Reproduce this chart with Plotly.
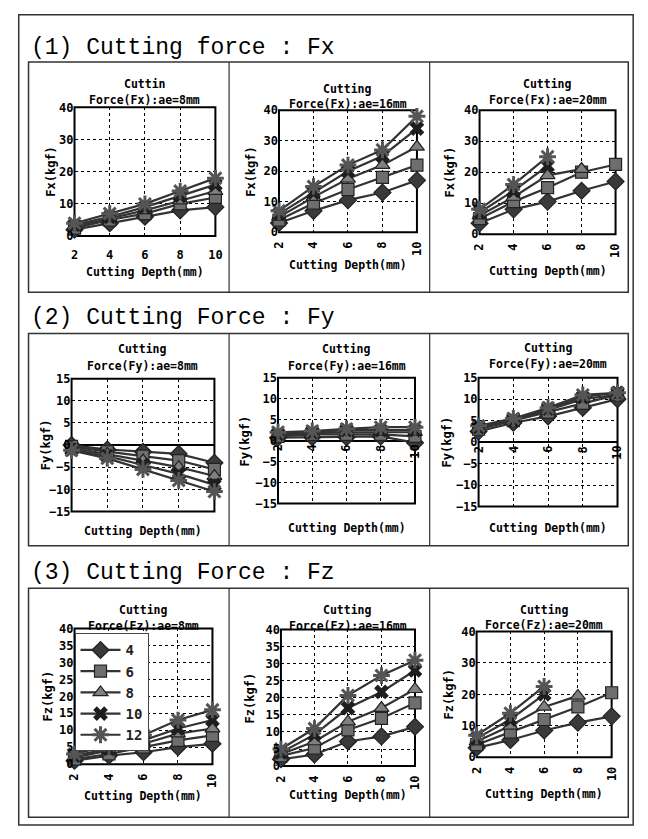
import plotly.graph_objects as go

W, H = 648, 839

# ---------------- data ----------------
depth = [2, 4, 6, 8, 10]
depth_labels = ["2", "4", "6", "8", "10"]
series_names = ["4", "6", "8", "10", "12"]

fx_ae8 = [[2, 4, 6, 8, 9],
          [2.5, 5, 7, 10, 12],
          [3, 5.5, 8, 11, 14],
          [3.5, 6, 9, 12.5, 16],
          [4, 7, 10, 14, 18]]
fx_ae16 = [[3, 7, 10.5, 13, 17],
           [4, 9.5, 14, 18, 22],
           [5, 11.5, 17.5, 22, 28],
           [6, 13, 20, 25, 34],
           [7, 15, 22, 27, 38]]
fx_ae20 = [[3.5, 8, 10.5, 14, 17],
           [5, 10.5, 15, 20, 22.5],
           [6, 12, 19, 21, None],
           [7, 14, 22, None, None],
           [8, 16, 25, None, None]]

fy_ae8 = [[0, -1, -1.5, -2, -4],
          [-0.3, -1.5, -2.5, -3.5, -5.5],
          [-0.6, -2, -3.5, -5, -7],
          [-1, -2.5, -4.5, -6.5, -9],
          [-1.2, -3, -5.5, -8, -10.5]]
fy_ae16 = [[0.7, 0.8, 0.8, 1.0, -0.5],
           [1.0, 1.5, 1.5, 1.5, 1.0],
           [1.3, 1.8, 2.0, 2.0, 2.0],
           [1.6, 2.0, 2.5, 2.5, 2.5],
           [2.0, 2.3, 2.8, 3.2, 3.2]]
fy_ae20 = [[2.5, 4.5, 6, 8, 10],
           [3, 5, 7, 9, 11],
           [3.2, 5, 7.5, 10, 11],
           [3.5, 5.2, 7.8, 10.5, 11.5],
           [3.8, 5.5, 8, 11, 11.5]]

fz_ae8 = [[1, 2.5, 3.5, 5, 6],
          [1.5, 3, 5, 7, 8.5],
          [2, 4, 6, 9, 10.5],
          [2.5, 4.5, 7, 10.5, 13],
          [3, 5.5, 8.5, 13, 16]]
fz_ae16 = [[2, 3.4, 7.2, 8.7, 11.5],
           [3, 5.3, 10.6, 14, 18.5],
           [3.5, 7.2, 13, 17, 22.5],
           [4, 9.2, 17, 21.7, 28],
           [5, 11, 20.7, 26.5, 31]]
fz_ae20 = [[3, 5.5, 8.5, 11, 13],
           [4, 8, 12, 16, 20.5],
           [5, 10, 16, 19.5, None],
           [6, 12, 20, None, None],
           [7, 14, 22.5, None, None]]

panel_data = [fx_ae8, fx_ae16, fx_ae20, fy_ae8, fy_ae16, fy_ae20, fz_ae8, fz_ae16, fz_ae20]
panel_titles = ["Cuttin<br>Force(Fx):ae=8mm", "Cutting<br>Force(Fx):ae=16mm", "Cutting<br>Force(Fx):ae=20mm",
                "Cutting<br>Force(Fy):ae=8mm", "Cutting<br>Force(Fy):ae=16mm", "Cutting<br>Force(Fy):ae=20mm",
                "Cutting<br>Force(Fz):ae=8mm", "Cutting<br>Force(Fz):ae=16mm", "Cutting<br>Force(Fz):ae=20mm"]
y_titles = ["Fx(kgf)"] * 3 + ["Fy(kgf)"] * 3 + ["Fz(kgf)"] * 3
x_title = "Cutting Depth(mm)"
section_titles = ["(1) Cutting force : Fx", "(2) Cutting Force : Fy", "(3) Cutting Force : Fz"]

# ---------------- layout geometry (px) ----------------
geom = [(69, 213, 102, 233), (278, 419, 105, 229), (483, 622, 105, 231),
        (66, 212, 378, 513), (277, 417, 377, 505), (482, 624, 377, 508),
        (69, 210, 632, 770), (280, 417, 633, 772), (480, 618, 635, 763)]
title_y = [(78, 95), (83, 99), (78, 95),
           (348, 365), (348, 365), (347, 363),
           (613, 629), (613, 629), (613, 628)]
xtitle_y = [270, 262, 268, 533, 530, 530, 802, 801, 800]
ytitle_x = [45, 250, 453, 40, 243, 450, 42, 248, 452]
yranges = [[0, 40]] * 3 + [[-15, 15]] * 3 + [[0, 40]] * 3
ydticks = [10, 10, 10, 5, 5, 5, 5, 5, 10]
xtick_mode = ["flat", "rot", "rot", "none", "zero", "zero", "rot", "rot", "rot"]

sec_boxes = [(22, 635, 56, 290), (22, 635, 332, 548), (22, 635, 591, 824)]
sec_title_y = [42, 316, 576]
dividers = [227, 432]

symbols = ["diamond", "square", "triangle-up", "x", "asterisk"]
mcolors = ["#3a3a3a", "#6e6e6e", "#808080", "#1e1e1e", "#555555"]
msizes = [13, 12, 13, 13, 14]

FONT = "DejaVu Sans Mono"
tickfont = dict(family=FONT, size=12, color="black", weight="bold")


def fx(v):
    return v / W


def fy(v):
    return 1 - v / H


def sfx(k):
    return "" if k == 1 else str(k)


fig = go.Figure()

for i, data in enumerate(panel_data):
    k = i + 1
    for j, vals in enumerate(data):
        sym = symbols[j]
        if sym == "asterisk":
            marker = dict(symbol=sym, size=msizes[j], color=mcolors[j],
                          line=dict(color=mcolors[j], width=3))
        elif sym == "x":
            marker = dict(symbol=sym, size=msizes[j], color=mcolors[j],
                          line=dict(color=mcolors[j], width=0))
        else:
            marker = dict(symbol=sym, size=msizes[j], color=mcolors[j],
                          line=dict(color="#222222", width=1.2))
        fig.add_trace(go.Scatter(
            x=depth, y=vals, mode="lines+markers", name=series_names[j],
            xaxis=f"x{sfx(k)}", yaxis=f"y{sfx(k)}",
            line=dict(color="#333333", width=2.2),
            marker=marker, cliponaxis=False, connectgaps=False,
            showlegend=(i == 6), hoverinfo="skip"))

annotations = []
shapes = []
axes = {}

for i in range(9):
    k = i + 1
    s = sfx(k)
    l, r, t, b = geom[i]
    mode = xtick_mode[i]
    axes[f"xaxis{s}"] = dict(
        domain=[fx(l), fx(r)], anchor=f"y{s}", range=[2, 10],
        tickvals=depth, ticktext=depth_labels,
        showgrid=True, gridcolor="black", griddash="dot", gridwidth=1,
        showline=False, zeroline=False, ticks="",
        showticklabels=(mode in ("flat", "rot")),
        tickangle=(0 if mode == "flat" else -90),
        ticklabelstandoff=(10 if mode == "flat" else 6),
        tickfont=tickfont, fixedrange=True)
    axes[f"yaxis{s}"] = dict(
        domain=[fy(b), fy(t)], anchor=f"x{s}", range=yranges[i], dtick=ydticks[i],
        showgrid=True, gridcolor="black", griddash="dot", gridwidth=1,
        showline=False, ticks="", tickfont=tickfont,
        zeroline=(yranges[i][0] < 0), zerolinecolor="black", zerolinewidth=1.5,
        fixedrange=True)
    shapes.append(dict(type="rect", xref=f"x{s} domain", yref=f"y{s} domain",
                       x0=0, x1=1, y0=0, y1=1, line=dict(color="black", width=2),
                       layer="below"))
    t1, t2 = panel_titles[i].split("<br>")
    cx = fx((l + r) / 2)
    for txt, yy in zip((t1, t2), title_y[i]):
        annotations.append(dict(text=txt, x=cx, y=fy(yy), xref="paper", yref="paper",
                                showarrow=False, xanchor="center", yanchor="middle",
                                font=dict(family=FONT, size=11.5, color="black", weight="bold")))
    annotations.append(dict(text=x_title, x=cx, y=fy(xtitle_y[i]), xref="paper", yref="paper",
                            showarrow=False, xanchor="center", yanchor="middle",
                            font=dict(family=FONT, size=11.5, color="black", weight="bold")))
    annotations.append(dict(text=y_titles[i], x=fx(ytitle_x[i]), y=fy((t + b) / 2),
                            xref="paper", yref="paper", showarrow=False, textangle=-90,
                            xanchor="center", yanchor="middle",
                            font=dict(family=FONT, size=12, color="black", weight="bold")))
    if mode == "zero":
        for xv, lab in zip(depth, depth_labels):
            annotations.append(dict(text=lab, x=xv, y=0, xref=f"x{s}", yref=f"y{s}",
                                    showarrow=False, textangle=-90, xanchor="center",
                                    yanchor="top", yshift=-2,
                                    font=tickfont))

for (l, r, t, b), ty, st in zip(sec_boxes, sec_title_y, section_titles):
    shapes.append(dict(type="rect", xref="paper", yref="paper",
                       x0=fx(l), x1=fx(r), y0=fy(b), y1=fy(t),
                       line=dict(color="#333333", width=1.5)))
    for dx in dividers:
        shapes.append(dict(type="line", xref="paper", yref="paper",
                           x0=fx(dx), x1=fx(dx), y0=fy(b), y1=fy(t),
                           line=dict(color="#333333", width=1.2)))
    annotations.append(dict(text=st, x=fx(l), y=fy(ty), xref="paper", yref="paper",
                            showarrow=False, xanchor="left", yanchor="middle",
                            font=dict(family="Liberation Mono", size=23, color="black")))

shapes.append(dict(type="rect", xref="paper", yref="paper",
                   x0=fx(12), x1=fx(640), y0=fy(832), y1=fy(8),
                   line=dict(color="#333333", width=1.5)))

fig.update_layout(
    width=W, height=H, margin=dict(l=0, r=0, t=0, b=0),
    paper_bgcolor="white", plot_bgcolor="white",
    showlegend=True,
    legend=dict(x=fx(69), y=fy(637), xanchor="left", yanchor="top",
                bgcolor="white", bordercolor="#444444", borderwidth=1,
                font=dict(family=FONT, size=14, color="#222222", weight="bold"),
                itemwidth=40, tracegroupgap=0),
    annotations=annotations, shapes=shapes, **axes)

fig.write_html("out.html", config={"displayModeBar": False},
               post_script="document.body.style.margin='0';document.body.style.overflow='hidden';")
